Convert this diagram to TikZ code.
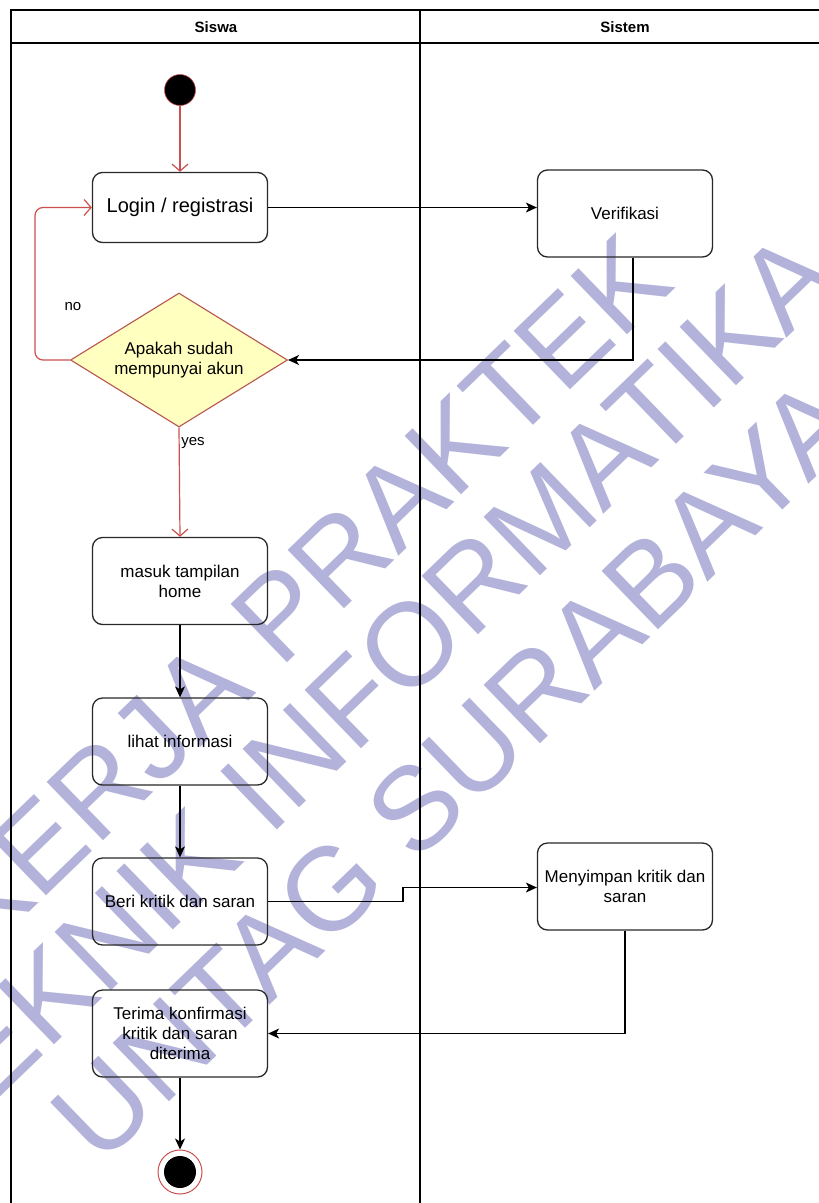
\documentclass[tikz,border=0pt]{standalone}
\usepackage{fontspec}
\setmainfont{Liberation Sans}
\usetikzlibrary{arrows.meta,shapes.geometric}
\definecolor{redline}{RGB}{205,80,80}
\definecolor{wmcol}{RGB}{178,178,218}
\definecolor{dfill}{RGB}{255,255,192}
\definecolor{dstroke}{RGB}{184,84,80}
\definecolor{boxline}{RGB}{40,40,40}
\begin{document}
\begin{tikzpicture}[x=1pt,y=-1pt,
  act/.style={draw=boxline, line width=1.3pt, rounded corners=10pt, minimum width=175pt, minimum height=87pt, align=center, font=\fontsize{17}{20}\selectfont, inner sep=0pt},
  flow/.style={draw=black, line width=1.2pt, -{Stealth[length=11pt,width=10pt,inset=3pt]}},
  redflow/.style={draw=redline, line width=1.2pt, -{Straight Barb[length=7pt,width=16pt]}},
  wmtext/.style={text=wmcol, font=\fontsize{118}{118}\selectfont, rotate=44, anchor=base, inner sep=0pt},
  lbl/.style={font=\fontsize{15}{15}\selectfont, inner sep=0pt},
  hdr/.style={font=\bfseries\fontsize{15}{15}\selectfont, inner sep=0pt}]
\useasboundingbox (0,0) rectangle (819,1203);
\fill[white] (0,0) rectangle (819,1203);
% watermark
\begin{scope}
\clip (0,0) rectangle (819,1203);
\node[wmtext] (wm1) at (330,622) {KERJA PRAKTEK};
\node[wmtext] (wm2) at (391,720) {TEKNIK INFORMATIKA};
\node[wmtext] (wm3) at (483,799) {UNTAG SURABAYA};
\end{scope}
% pool
\draw[line width=1.3pt] (11,10) rectangle (840,1220);
\draw[line width=1.3pt] (11,43) -- (840,43);
\draw[line width=1.3pt] (420,10) -- (420,1220);
\node[hdr] (h1) at (216,27) {Siswa};
\node[hdr] (h2) at (625,27) {Sistem};
% nodes
\node[circle, fill=black, draw=redline, line width=0.6pt, minimum size=31pt, inner sep=0pt] (start) at (180,90) {};
\node[act, minimum height=70pt, font=\fontsize{20}{24}\selectfont] (login) at (180,207.5) {Login / registrasi};
\node[act] (verif) at (625,213.5) {Verifikasi};
\node[diamond, draw=dstroke, fill=dfill, line width=1.1pt, minimum width=217pt, minimum height=134pt, aspect=1.62, inner sep=0pt, align=center, font=\fontsize{17}{20}\selectfont] (dec) at (179,360) {Apakah sudah\\mempunyai akun};
\node[act] (home) at (180,581) {masuk tampilan\\home};
\node[act] (info) at (180,741.5) {lihat informasi};
\node[act] (beri) at (180,901.5) {Beri kritik dan saran};
\node[act] (simpan) at (625,886.5) {Menyimpan kritik dan\\saran};
\node[act] (terima) at (180,1033.5) {Terima konfirmasi\\kritik dan saran\\diterima};
\node[circle, draw=redline, line width=1pt, fill=white, minimum size=44pt, inner sep=0pt] (end) at (180,1172) {};
\node[circle, fill=black, minimum size=32pt, inner sep=0pt] (endin) at (end.center) {};
% labels
\node[lbl] (no) at (73,307) {no};
\node[lbl] (yes) at (193,443) {yes};
% connectors
\coordinate (loopx) at (35,0);
\coordinate (stepx) at (403,0);
\draw[redflow] (start) -- (login);
\draw[flow] (login.east) -- (login.east -| verif.west);
\draw[flow] ([xshift=8pt]verif.south) |- (dec.east);
\draw[redflow, rounded corners=8pt] (dec.west) -- (dec.west -| loopx) |- (login.west);
\draw[redflow] (dec.south) -- (home.north);
\draw[flow] (home) -- (info);
\draw[flow] (info) -- (beri);
\draw[flow] (beri.east) -- (beri.east -| stepx) -- ([yshift=14pt]beri.east -| stepx) -- ([yshift=14pt]beri.east -| simpan.west);
\draw[flow] (simpan.south) |- (terima.east);
\draw[flow] (terima) -- (end);
\end{tikzpicture}
\end{document}
